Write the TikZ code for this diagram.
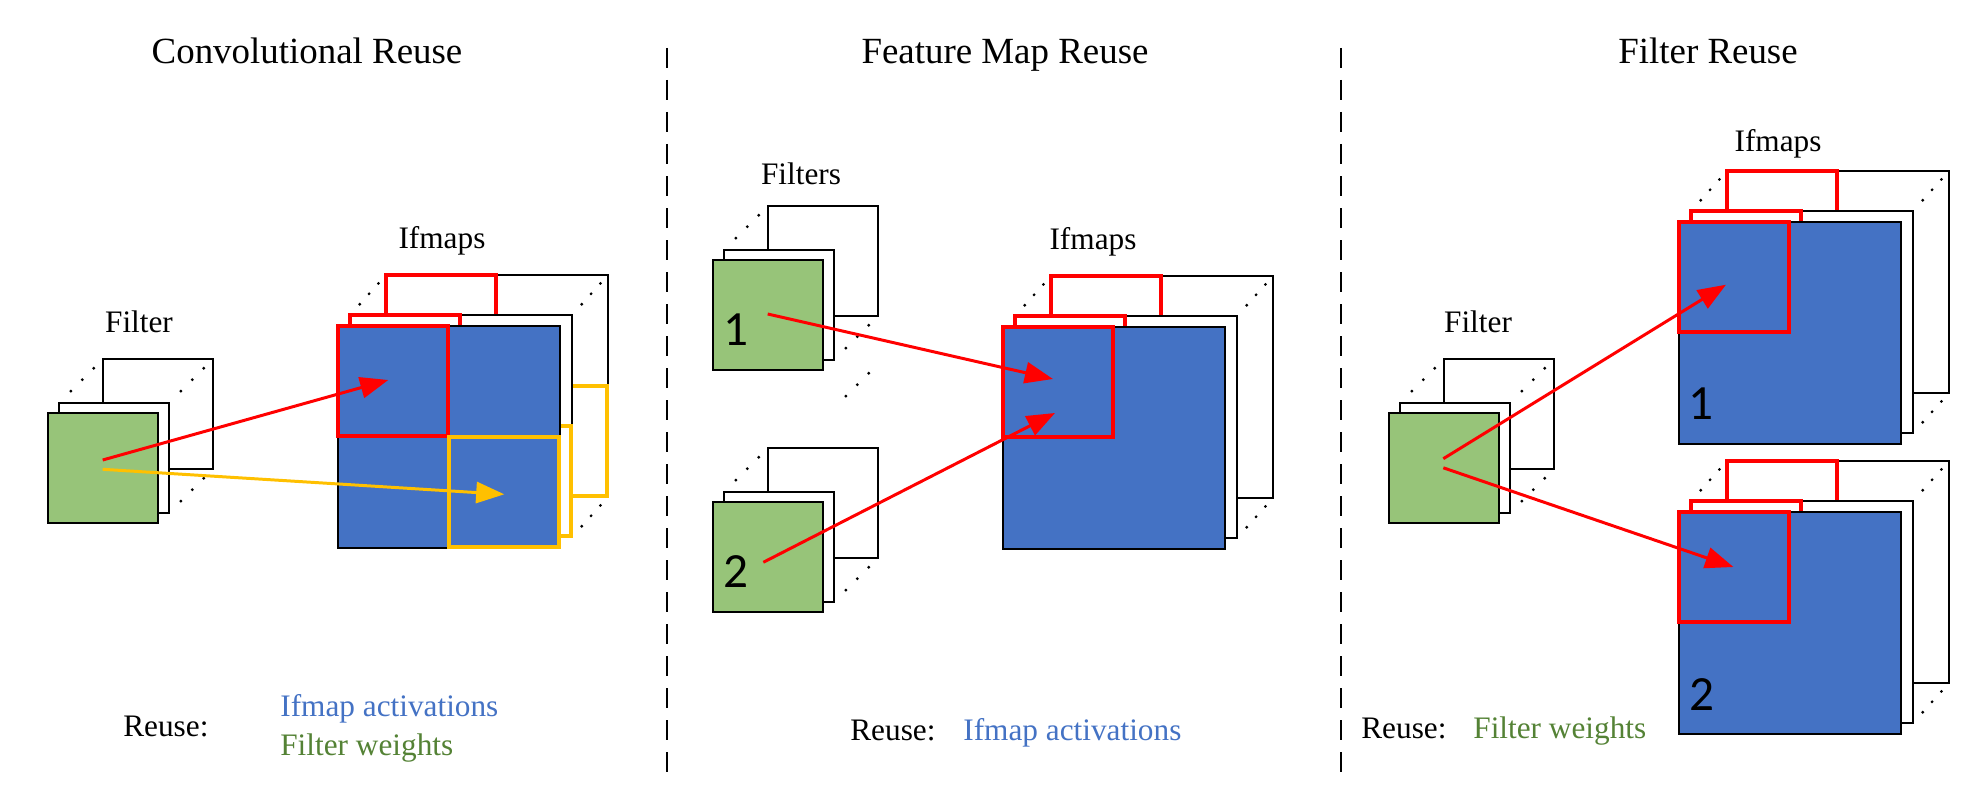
\documentclass[tikz,border=0pt]{standalone}
\usepackage{fontspec}
\setmainfont{Liberation Serif}
\newfontfamily\numfont{Carlito}
\usepackage{tikz}
\usetikzlibrary{arrows.meta,calc}

\definecolor{mapblue}{HTML}{4472C4}
\definecolor{filtgreen}{HTML}{97C479}
\definecolor{txtgreen}{HTML}{548235}
\definecolor{boxyellow}{HTML}{FFC000}

\begin{document}
\begin{tikzpicture}[x=0.2cm,y=-0.2cm,
		sheet/.style={draw=black,line width=0.9pt,fill=white},
		bluesheet/.style={draw=black,line width=0.9pt,fill=mapblue},
		greensheet/.style={draw=black,line width=0.9pt,fill=filtgreen},
		redbox/.style={draw=red,line width=1.9pt},
		yellowbox/.style={draw=boxyellow,line width=1.9pt},
		redarrow/.style={red,line width=1.7pt,-{Triangle[length=16pt,width=12pt]}},
		yellowarrow/.style={boxyellow,line width=1.7pt,-{Triangle[length=16pt,width=12pt]}},
		divider/.style={line width=1.4pt,dash pattern=on 0.4cm off 0.24cm},
		headtxt/.style={anchor=base,inner sep=0pt,font=\fontsize{21}{24}\selectfont},
		txt/.style={anchor=base,inner sep=0pt,font=\fontsize{17.8}{20}\selectfont},
		numtxt/.style={inner sep=0pt,font=\numfont\fontsize{28}{30}\selectfont}]
		\useasboundingbox (0,0) rectangle (198.4,79.8);
		
		% Separadores
		\draw[divider] (66.7,4.8) -- (66.7,77.2);
		\draw[divider] (134.1,4.8) -- (134.1,77.2);
		
		% Títulos
		\node[headtxt] (t1) at (30.7,6.33) {Convolutional Reuse};
		\node[headtxt] (t2) at (100.5,6.33) {Feature Map Reuse};
		\node[headtxt] (t3) at (170.8,6.33) {Filter Reuse};
		
		% Filtros (três folhas)
		\foreach \x/\y in {4.8/41.3,71.3/26.0,71.3/50.2,138.9/41.3}{
			\draw[sheet] (\x+5.5,\y-5.4) rectangle ++(11,11);
			\draw[sheet] (\x+1.1,\y-1.0) rectangle ++(11,11);
			\draw[greensheet] (\x,\y) rectangle ++(11,11);
		}
		
		% Ifmaps da reutilização convolucional
		\draw[sheet] (38.6,27.5) rectangle ++(22.2,22.2);
		\draw[redbox] (38.6,27.5) rectangle ++(11,11);
		\draw[yellowbox] (49.7,38.6) rectangle ++(11,11);
		\draw[sheet] (35.0,31.5) rectangle ++(22.2,22.2);
		\draw[redbox] (35.0,31.5) rectangle ++(11,11);
		\draw[yellowbox] (46.1,42.6) rectangle ++(11,11);
		\draw[bluesheet] (33.8,32.6) rectangle ++(22.2,22.2);
		\draw[redbox] (33.8,32.6) rectangle ++(11,11);
		\draw[yellowbox] (44.9,43.7) rectangle ++(11,11);
		
		% Ifmaps dos outros painéis
		\foreach \x/\y in {100.3/32.7,167.9/22.2,167.9/51.2}{
			\draw[sheet] (\x+4.8,\y-5.1) rectangle ++(22.2,22.2);
			\draw[redbox] (\x+4.8,\y-5.1) rectangle ++(11,11);
			\draw[sheet] (\x+1.2,\y-1.1) rectangle ++(22.2,22.2);
			\draw[redbox] (\x+1.2,\y-1.1) rectangle ++(11,11);
			\draw[bluesheet] (\x,\y) rectangle ++(22.2,22.2);
			\draw[redbox] (\x,\y) rectangle ++(11,11);
		}
		
		% Reticências entre as folhas
		\foreach \xa/\ya/\xb/\yb in {5.9/40.3/10.3/35.9,16.9/40.3/21.3/35.9,16.9/51.3/21.3/46.9,
			35.0/31.5/38.6/27.5,57.2/31.5/60.8/27.5,57.2/53.7/60.8/49.7,
			72.4/25.0/76.8/20.6,83.4/36.0/87.8/31.6,83.4/40.8/87.8/36.4,
			72.4/49.2/76.8/44.8,83.4/60.2/87.8/55.8,
			101.5/31.6/105.1/27.6,123.7/31.6/127.3/27.6,123.7/53.8/127.3/49.8,
			140.0/40.3/144.4/35.9,151.0/40.3/155.4/35.9,151.0/51.3/155.4/46.9,
			169.1/21.1/172.7/17.1,191.3/21.1/194.9/17.1,191.3/43.3/194.9/39.3,
			169.1/50.1/172.7/46.1,191.3/50.1/194.9/46.1,191.3/72.3/194.9/68.3}
			\foreach \t in {0.27,0.53,0.79}
				\fill ($(\xa,\ya)!\t!(\xb,\yb)$) circle (0.9pt);
		
		% Números
		\node[numtxt] (n1) at (73.6,33.0) {1};
		\node[numtxt] (n2) at (73.6,57.2) {2};
		\node[numtxt] (n3) at (170.1,40.4) {1};
		\node[numtxt] (n4) at (170.2,69.5) {2};
		
		% Rótulos
		\node[txt] (lfilter1) at (13.9,33.2) {Filter};
		\node[txt] (lifmaps1) at (44.2,24.9) {Ifmaps};
		\node[txt] (lfilters2) at (80.1,18.5) {Filters};
		\node[txt] (lifmaps2) at (109.3,25.0) {Ifmaps};
		\node[txt] (lfilter3) at (147.8,33.2) {Filter};
		\node[txt] (lifmaps3) at (177.8,15.2) {Ifmaps};
		
		% Reutilização
		\node[txt,anchor=base west] (r1) at (12.3,73.6) {Reuse:};
		\node[txt,anchor=base west,text=mapblue] (r1a) at (28.0,71.6) {Ifmap activations};
		\node[txt,anchor=base west,text=txtgreen] (r1b) at (28.0,75.5) {Filter weights};
		\node[txt,anchor=base west] (r2) at (85.0,74.0) {Reuse:};
		\node[txt,anchor=base west,text=mapblue] (r2a) at (96.3,74.0) {Ifmap activations};
		\node[txt,anchor=base west] (r3) at (136.1,73.8) {Reuse:};
		\node[txt,anchor=base west,text=txtgreen] (r3a) at (147.3,73.8) {Filter weights};
		
		% Setas
		\coordinate (src1) at (10.27,46.0);
		\coordinate (src1b) at (10.27,46.93);
		\coordinate (dst1) at (38.83,38.0);
		\coordinate (dst1b) at (50.43,49.43);
		\coordinate (src2) at (76.77,31.4);
		\coordinate (src2b) at (76.33,56.23);
		\coordinate (dst2) at (105.3,37.9);
		\coordinate (dst2b) at (105.5,41.3);
		\coordinate (src3) at (144.33,45.87);
		\coordinate (src3b) at (144.33,46.78);
		\coordinate (dst3) at (172.6,28.47);
		\coordinate (dst3b) at (173.34,56.7);
		\draw[redarrow] (src1) -- (dst1);
		\draw[yellowarrow] (src1b) -- (dst1b);
		\draw[redarrow] (src2) -- (dst2);
		\draw[redarrow] (src2b) -- (dst2b);
		\draw[redarrow] (src3) -- (dst3);
		\draw[redarrow] (src3b) -- (dst3b);
	\end{tikzpicture}
\end{document}
